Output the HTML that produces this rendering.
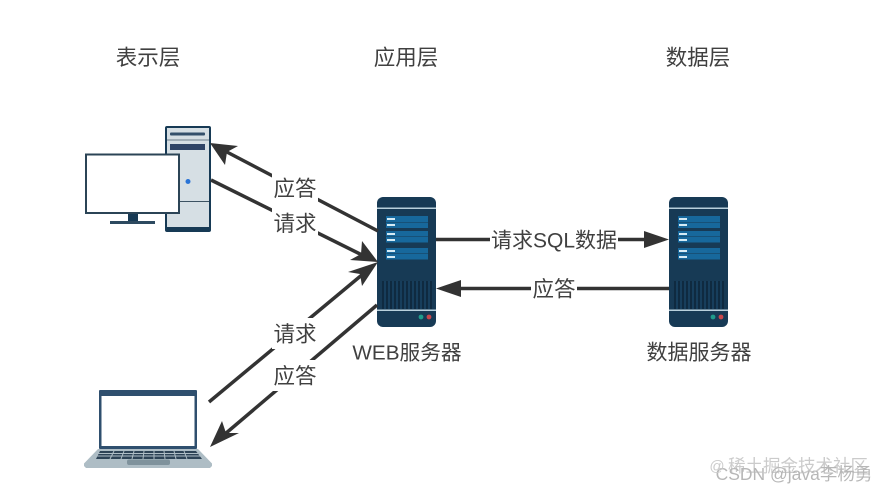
<!DOCTYPE html>
<html lang="zh">
<head>
<meta charset="utf-8">
<style>
html,body{margin:0;padding:0;background:#fff}
svg{display:block}
text{font-family:"Liberation Sans","Noto Sans CJK SC",sans-serif;fill:#404040;font-size:21.5px;text-anchor:middle}
</style>
</head>
<body>
<svg width="887" height="491" viewBox="0 0 887 491" xmlns="http://www.w3.org/2000/svg">
<defs>
<g id="srv">
<rect x="0" y="0" width="59" height="130" rx="6" fill="#173a55"/>
<rect x="0" y="10.500" width="59" height="1.500" fill="#b9d0dc"/>
<rect x="0" y="112.500" width="59" height="1.500" fill="#b9d0dc"/>
<rect x="9" y="19" width="42" height="6" fill="#17689c"/>
<rect x="9" y="25.500" width="42" height="5.500" fill="#17689c"/>
<rect x="9" y="34" width="42" height="5.500" fill="#17689c"/>
<rect x="9" y="40" width="42" height="5.500" fill="#17689c"/>
<rect x="9" y="51" width="42" height="5.500" fill="#17689c"/>
<rect x="9" y="57" width="42" height="5.500" fill="#17689c"/>
<rect x="10" y="21" width="8" height="2" fill="#d5ebf5"/>
<rect x="10" y="27" width="8" height="2" fill="#d5ebf5"/>
<rect x="10" y="36" width="8" height="2" fill="#d5ebf5"/>
<rect x="10" y="42" width="8" height="2" fill="#d5ebf5"/>
<rect x="10" y="53" width="8" height="2" fill="#d5ebf5"/>
<rect x="10" y="59" width="8" height="2" fill="#d5ebf5"/>
<rect x="5" y="84" width="50" height="28" fill="#0f2a40"/>
<path d="M8 84v28M12 84v28M16 84v28M20 84v28M24 84v28M28 84v28M32 84v28M36 84v28M40 84v28M44 84v28M48 84v28M52 84v28" stroke="#1d4d6e" stroke-width="1.200"/>
<circle cx="44" cy="120" r="2.400" fill="#1f9c8c"/>
<circle cx="52" cy="120" r="2.400" fill="#c8474c"/>
</g>
</defs>

<!-- Tower -->
<rect x="165" y="126" width="46" height="106" rx="2" fill="#173a55"/>
<rect x="167" y="128" width="42" height="99" fill="#d6dfe4"/>
<rect x="167" y="139.500" width="42" height="1" fill="#6d7f8c"/>
<rect x="170" y="132.500" width="35" height="3" rx="1" fill="#34506b"/>
<rect x="170" y="144" width="35" height="6" fill="#2f4466"/>
<rect x="167" y="201" width="42" height="1" fill="#3c5262"/>
<circle cx="188" cy="181.500" r="2.500" fill="#2a74d6"/>

<!-- Monitor -->
<rect x="128" y="212" width="10" height="10" fill="#173a55"/>
<rect x="110" y="221" width="45" height="3" fill="#2d4a60"/>
<rect x="86" y="154.500" width="93" height="58.500" fill="#fff" stroke="#2b4456" stroke-width="2"/>

<!-- Laptop -->
<rect x="99" y="390" width="98" height="59" rx="1" fill="#2f4f6e"/>
<rect x="101.500" y="396" width="93" height="50" fill="#fff"/>
<path d="M98 449H198L212 463.500V466L210 468H86L84 466V463.500Z" fill="#aebdc5"/>
<path d="M100 451H196L202 459H96Z" fill="#2d4356"/>
<path d="M98 453.500H198M96 456H201M114 451L110 459M124 451L121 459M134 451L132 459M144 451L143 459M154 451L154 459M164 451L165 459M174 451L176 459M184 451L187 459" stroke="#aebdc5" stroke-width="1" fill="none"/>
<rect x="127" y="459.500" width="43" height="5.500" rx="2" fill="#7f929c"/>

<!-- Servers -->
<use href="#srv" x="377" y="197"/>
<use href="#srv" x="669" y="197"/>

<!-- Connectors -->
<g stroke="#333" stroke-width="3.500" fill="none">
<line x1="378" y1="231" x2="225" y2="151"/>
<line x1="211" y1="180" x2="362" y2="255"/>
<line x1="209" y1="402" x2="363" y2="274"/>
<line x1="377" y1="305" x2="225" y2="434"/>
<line x1="436" y1="239.500" x2="648" y2="239.500"/>
<line x1="669" y1="288.500" x2="457" y2="288.500"/>
</g>
<g fill="#333">
<path d="M210 143L238 146L227 152L225 165Z"/>
<path d="M378 262L350 260L361 254L362 241Z"/>
<path d="M378 262L362 286L360 274L348 272Z"/>
<path d="M210 447L222 421L226 433L239 433Z"/>
<path d="M669 239.500L644 231V248Z"/>
<path d="M436 288.500L461 280V297Z"/>
</g>

<!-- Label backgrounds -->
<g fill="#fff">
<rect x="272" y="172" width="46" height="31"/>
<rect x="272" y="208" width="46" height="31"/>
<rect x="272" y="318" width="46" height="31"/>
<rect x="272" y="360" width="46" height="31"/>
<rect x="490" y="225" width="128" height="30"/>
<rect x="531" y="274" width="46" height="30"/>
</g>

<!-- Labels -->
<text x="148" y="65">表示层</text>
<text x="406" y="65">应用层</text>
<text x="698" y="65">数据层</text>
<text x="295" y="196">应答</text>
<text x="295" y="231">请求</text>
<text x="295" y="341.500">请求</text>
<text x="295" y="383.500">应答</text>
<text x="554" y="247.500" style="font-size:21px">请求SQL数据</text>
<text x="554" y="296.500">应答</text>
<text x="407" y="359.500" style="font-size:20.700px">WEB服务器</text>
<text x="699" y="359.500" style="font-size:21px">数据服务器</text>

<!-- Watermark -->
<g style="opacity:.6">
<text x="798" y="472" style="font-size:17.500px;fill:#aaa">稀土掘金技术社区</text>
<text x="794" y="480" style="font-size:17.500px;fill:#888">CSDN @java李杨勇</text>
<text x="717" y="471" style="font-size:15px;fill:#aaa">@</text>
</g>
</svg>
</body>
</html>
